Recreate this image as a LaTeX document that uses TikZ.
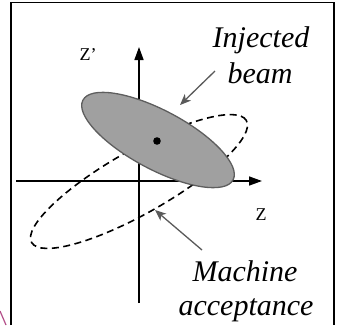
\documentclass[tikz,border=0pt]{standalone}
\usepackage{fontspec}
\setmainfont{Liberation Serif}
\usetikzlibrary{arrows.meta}
\definecolor{beamfill}{HTML}{A0A0A0}
\definecolor{beamedge}{HTML}{5E5E5E}
\definecolor{pointer}{HTML}{5A5A5A}
\definecolor{pinkfrag}{HTML}{B4508A}
\tikzset{
  axisline/.style={line width=1.5pt,-{Triangle[length=13pt,width=9pt]}},
  pointerline/.style={draw=pointer,line width=1.3pt,-{Stealth[length=11pt,width=9pt,inset=3pt]},color=pointer},
  bigtext/.style={font=\fontsize{30}{34}\selectfont\itshape,inner sep=0pt,anchor=base},
  axlabel/.style={font=\fontsize{18}{20}\selectfont,inner sep=0pt,anchor=base},
}
\begin{document}
\begin{tikzpicture}[x=1pt,y=1pt]
\useasboundingbox (0,0) rectangle (337,-325);
% frame
\draw[line width=1.6pt] (10.8,-325) -- (10.8,-2.5) -- (334,-2.5) -- (334,-325);
% pink fragment
\draw[pinkfrag,line width=1.2pt] (0,-311) -- (6,-325);
% axes
\coordinate (xs) at (16,-181);
\coordinate (xe) at (262,-181);
\coordinate (ys) at (139,-303);
\coordinate (ye) at (139,-47);
\draw[axisline] (xs) -- (xe);
\draw[axisline] (ys) -- (ye);
% acceptance ellipse
\draw[line width=1.6pt,dash pattern=on 7pt off 4.5pt,rotate around={29.6:(139,-181.5)}] (139,-181.5) ellipse [x radius=123.5, y radius=31.6];
% injected beam
\draw[fill=beamfill,draw=beamedge,line width=1.3pt,rotate around={-28:(158,-140)}] (158,-140) ellipse [x radius=85, y radius=29.5];
\fill (157,-141) circle [radius=3.8];
% labels
\node[axlabel] (zp) at (88,-60) {Z’};
\node[axlabel] (z) at (261,-220) {Z};
\node[bigtext] (inj) at (261,-47) {Injected};
\node[bigtext] (bm) at (260,-83) {beam};
\node[bigtext] (mach) at (245,-281) {Machine};
\node[bigtext] (acc) at (246,-315) {acceptance};
% pointers
\coordinate (p1s) at (215,-71);
\coordinate (p1e) at (180,-105);
\coordinate (p2s) at (202,-250);
\coordinate (p2e) at (155,-210);
\draw[pointerline] (p1s) -- (p1e);
\draw[pointerline] (p2s) -- (p2e);
\end{tikzpicture}
\end{document}
